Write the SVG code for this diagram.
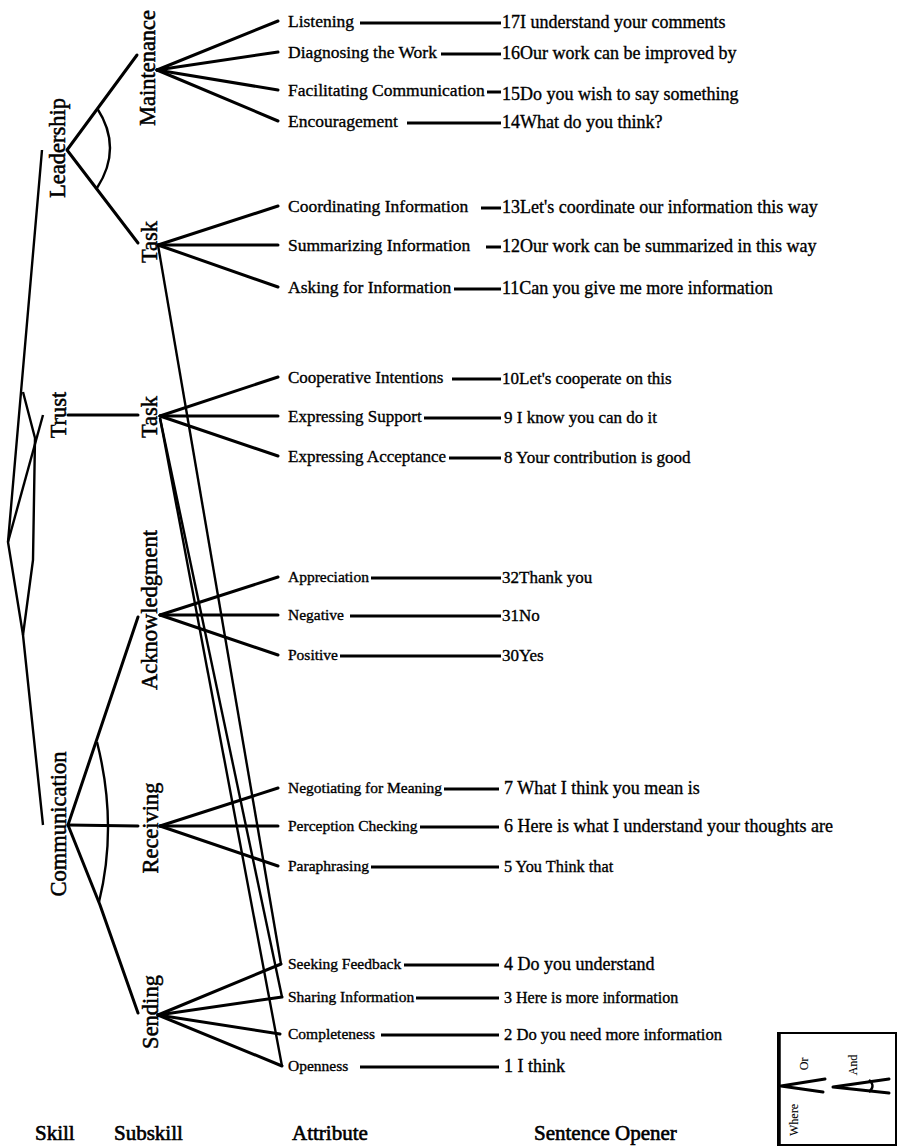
<svg xmlns="http://www.w3.org/2000/svg" width="897" height="1147" viewBox="0 0 897 1147">
<style>
text{font-family:"Liberation Serif","Times New Roman",serif;fill:#000;stroke:#000;stroke-width:0.35}
.sk{font-size:22.5px;text-anchor:middle;stroke-width:0.5}
.au{font-size:17.5px}
.at{font-size:17px}
.al{font-size:15.5px}
.ou{font-size:18px}
.ot{font-size:17px}
.ol{font-size:18px}
.ft{font-size:21px;stroke-width:0.6}
.lg{font-size:12px;text-anchor:middle;stroke-width:0.1}
.br{stroke:#000;stroke-width:3;fill:none;stroke-linecap:round;stroke-linejoin:round}
.ln{stroke:#000;stroke-width:2.4;fill:none;stroke-linejoin:round}
.dh{stroke:#000;stroke-width:3}
</style>
<rect width="897" height="1147" fill="#fff"/>
<g id="connectors">
<polyline class="ln" points="42,150 8,542 23,635 43,825"/>
<polyline class="ln" points="23,392 35,438 33,560 23,635"/>
<line class="ln" x1="43" y1="415" x2="8" y2="542"/>
<polyline class="br" points="137,55 67,150 138,243"/>
<path class="ln" d="M97,108 Q123,148 97,188"/>
<line class="br" x1="68" y1="415" x2="138" y2="415"/>
<polyline class="br" points="138,617 68,825 100,905 138,1013"/>
<line class="br" x1="68" y1="825" x2="138" y2="826"/>
<path class="ln" d="M97,742 Q118,825 99,902"/>
<g class="br">
<line x1="157" y1="70" x2="278" y2="21"/><line x1="157" y1="70" x2="278" y2="52"/><line x1="157" y1="70" x2="278" y2="90"/><line x1="157" y1="70" x2="278" y2="121"/>
<line x1="158" y1="245" x2="278" y2="206"/><line x1="158" y1="245" x2="278" y2="245"/><line x1="158" y1="245" x2="278" y2="287"/>
<line x1="160" y1="416" x2="278" y2="377"/><line x1="160" y1="416" x2="278" y2="416"/><line x1="160" y1="416" x2="278" y2="456"/>
<line x1="160" y1="615" x2="278" y2="577"/><line x1="160" y1="615" x2="278" y2="615"/><line x1="160" y1="615" x2="278" y2="655"/>
<line x1="160" y1="826" x2="278" y2="788"/><line x1="160" y1="826" x2="278" y2="826"/><line x1="160" y1="826" x2="278" y2="866"/>
<line x1="158" y1="1015" x2="281" y2="964"/><line x1="158" y1="1015" x2="282" y2="997"/><line x1="158" y1="1015" x2="280" y2="1034"/><line x1="158" y1="1015" x2="282" y2="1066"/>
</g>
<g class="ln">
<line x1="158" y1="245" x2="281" y2="964"/>
<line x1="160" y1="418" x2="282" y2="997"/>
<line x1="160" y1="418" x2="282" y2="1066"/>
</g>
<g class="dh">
<line x1="360" y1="23" x2="501" y2="23"/>
<line x1="441" y1="54" x2="501" y2="54"/>
<line x1="487" y1="92" x2="501" y2="92"/>
<line x1="407" y1="123" x2="501" y2="123"/>
<line x1="481" y1="208" x2="501" y2="208"/>
<line x1="486" y1="247" x2="501" y2="247"/>
<line x1="454" y1="289" x2="501" y2="289"/>
<line x1="452" y1="379" x2="501" y2="379"/>
<line x1="424" y1="418" x2="501" y2="418"/>
<line x1="449" y1="458" x2="501" y2="458"/>
<line x1="371" y1="578" x2="501" y2="578"/>
<line x1="350" y1="616" x2="501" y2="616"/>
<line x1="340" y1="656" x2="501" y2="656"/>
<line x1="444" y1="789" x2="499" y2="789"/>
<line x1="420" y1="827" x2="499" y2="827"/>
<line x1="371" y1="867" x2="499" y2="867"/>
<line x1="404" y1="965" x2="499" y2="965"/>
<line x1="416" y1="998" x2="499" y2="998"/>
<line x1="381" y1="1035" x2="499" y2="1035"/>
<line x1="360" y1="1067" x2="499" y2="1067"/>
</g>
</g>
<g id="skill-leadership"><text class="sk" transform="translate(65,148) rotate(-90)">Leadership</text></g>
<g id="skill-trust"><text class="sk" transform="translate(66,415) rotate(-90)">Trust</text></g>
<g id="skill-communication"><text class="sk" transform="translate(66,824) rotate(-90)">Communication</text></g>
<g id="sub-maintenance"><text class="sk" transform="translate(155,68) rotate(-90)">Maintenance</text></g>
<g id="sub-task-leadership"><text class="sk" transform="translate(157,242) rotate(-90)">Task</text></g>
<g id="sub-task-trust"><text class="sk" transform="translate(157,417) rotate(-90)">Task</text></g>
<g id="sub-acknowledgment"><text class="sk" transform="translate(157,610) rotate(-90)">Acknowledgment</text></g>
<g id="sub-receiving"><text class="sk" transform="translate(158,828) rotate(-90)">Receiving</text></g>
<g id="sub-sending"><text class="sk" transform="translate(158,1012) rotate(-90)">Sending</text></g>
<g id="attr-listening"><text class="au" x="288" y="27">Listening</text></g>
<g id="attr-diagnosing"><text class="au" x="288" y="58">Diagnosing the Work</text></g>
<g id="attr-facilitating"><text class="au" x="288" y="96">Facilitating Communication</text></g>
<g id="attr-encouragement"><text class="au" x="288" y="127">Encouragement</text></g>
<g id="attr-coordinating"><text class="au" x="288" y="212">Coordinating Information</text></g>
<g id="attr-summarizing"><text class="au" x="288" y="251">Summarizing Information</text></g>
<g id="attr-asking"><text class="au" x="288" y="293">Asking for Information</text></g>
<g id="attr-cooperative"><text class="at" x="288" y="383">Cooperative Intentions</text></g>
<g id="attr-support"><text class="at" x="288" y="422">Expressing Support</text></g>
<g id="attr-acceptance"><text class="at" x="288" y="462">Expressing Acceptance</text></g>
<g id="attr-appreciation"><text class="al" x="288" y="582">Appreciation</text></g>
<g id="attr-negative"><text class="al" x="288" y="620">Negative</text></g>
<g id="attr-positive"><text class="al" x="288" y="660">Positive</text></g>
<g id="attr-negotiating"><text class="al" x="288" y="793">Negotiating for Meaning</text></g>
<g id="attr-perception"><text class="al" x="288" y="831">Perception Checking</text></g>
<g id="attr-paraphrasing"><text class="al" x="288" y="871">Paraphrasing</text></g>
<g id="attr-seeking"><text class="al" x="288" y="969">Seeking Feedback</text></g>
<g id="attr-sharing"><text class="al" x="288" y="1002">Sharing Information</text></g>
<g id="attr-completeness"><text class="al" x="288" y="1039">Completeness</text></g>
<g id="attr-openness"><text class="al" x="288" y="1071">Openness</text></g>
<g id="op-17"><text class="ou" x="502" y="28">17I understand your comments</text></g>
<g id="op-16"><text class="ou" x="502" y="59">16Our work can be improved by</text></g>
<g id="op-15"><text class="ou" x="502" y="100">15Do you wish to say something</text></g>
<g id="op-14"><text class="ou" x="502" y="128">14What do you think?</text></g>
<g id="op-13"><text class="ou" x="502" y="213">13Let's coordinate our information this way</text></g>
<g id="op-12"><text class="ou" x="502" y="252">12Our work can be summarized in this way</text></g>
<g id="op-11"><text class="ou" x="502" y="294">11Can you give me more information</text></g>
<g id="op-10"><text class="ot" x="502" y="384">10Let's cooperate on this</text></g>
<g id="op-9"><text class="ot" x="504" y="423">9 I know you can do it</text></g>
<g id="op-8"><text class="ot" x="504" y="463">8 Your contribution is good</text></g>
<g id="op-32"><text class="ot" x="502" y="583">32Thank you</text></g>
<g id="op-31"><text class="ot" x="502" y="621">31No</text></g>
<g id="op-30"><text class="ot" x="502" y="661">30Yes</text></g>
<g id="op-7"><text class="ol" x="504" y="794">7 What I think you mean is</text></g>
<g id="op-6"><text class="ol" x="504" y="832">6 Here is what I understand your thoughts are</text></g>
<g id="op-5"><text class="ol" x="504" y="872" style="font-size:16.3px">5 You Think that</text></g>
<g id="op-4"><text class="ol" x="504" y="970">4 Do you understand</text></g>
<g id="op-3"><text class="ol" x="504" y="1003" style="font-size:16px">3 Here is more information</text></g>
<g id="op-2"><text class="ol" x="504" y="1040" style="font-size:16.6px">2 Do you need more information</text></g>
<g id="op-1"><text class="ol" x="504" y="1072">1 I think</text></g>
<g id="footer">
<text class="ft" x="35" y="1140">Skill</text>
<text class="ft" x="114" y="1140">Subskill</text>
<text class="ft" x="292" y="1140">Attribute</text>
<text class="ft" x="534" y="1140">Sentence Opener</text>
</g>
<g id="legend">
<rect x="778" y="1033" width="118" height="112" fill="none" stroke="#000" stroke-width="2"/>
<line x1="779" y1="1033" x2="779" y2="1145" stroke="#000" stroke-width="3.5"/>
<polyline class="br" points="825,1079 781,1086 823,1092"/>
<polyline class="br" points="889,1079 833,1087 889,1093"/>
<path class="ln" d="M869,1080 Q876,1086 869,1092"/>
<text class="lg" transform="translate(808,1064) rotate(-90)">Or</text>
<text class="lg" transform="translate(857,1065) rotate(-90)">And</text>
<text class="lg" transform="translate(798,1120) rotate(-90)">Where</text>
</g>
</svg>
